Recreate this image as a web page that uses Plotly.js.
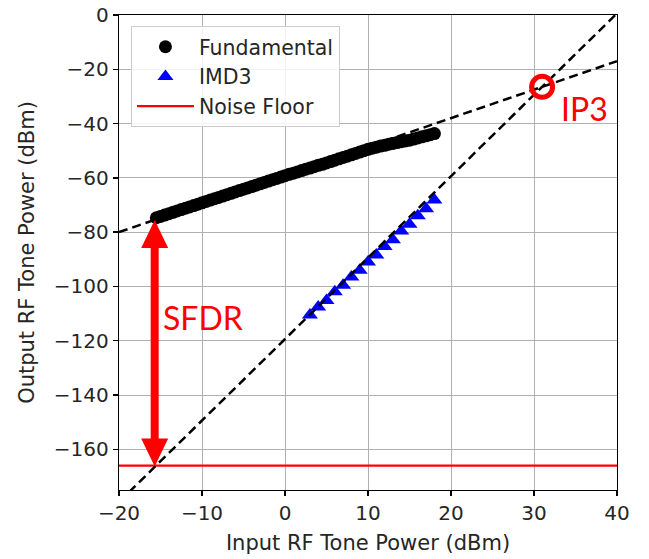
<!DOCTYPE html>
<html>
<head>
<meta charset="utf-8">
<script src="https://cdn.plot.ly/plotly-3.0.1.min.js"></script>
<style>html,body{margin:0;padding:0;background:#fff;}#chart{width:649px;height:559px;}</style>
</head>
<body>
<div id="chart"></div>
<script>
// ---- Data ----
var fundX = [-15.5,-15,-14.5,-14,-13.5,-13,-12.5,-12,-11.5,-11,-10.5,-10,
  -9.5,-9,-8.5,-8,-7.5,-7,-6.5,-6,-5.5,-5,-4.5,-4,-3.5,-3,-2.5,-2,-1.5,-1,-0.5,0,
  0.5,1,1.5,2,2.5,3,3.5,4,4.5,5,5.5,6,6.5,7,7.5,8,8.5,9,9.5,10,
  10.5,11,11.5,12,12.5,13,13.5,14,14.5,15,15.5,16,16.5,17,17.5,18];
var fundY = [-74.7,-74.2,-73.7,-73.2,-72.7,-72.2,-71.7,-71.2,-70.7,-70.2,-69.7,-69.2,
  -68.7,-68.2,-67.7,-67.2,-66.7,-66.2,-65.7,-65.2,-64.7,-64.2,-63.7,-63.2,-62.7,-62.2,-61.7,-61.2,-60.7,-60.2,-59.7,-59.2,
  -58.7,-58.3,-57.8,-57.3,-56.8,-56.4,-55.9,-55.4,-55.0,-54.5,-54.0,-53.5,-53.0,-52.5,-52.0,-51.5,-51.0,-50.5,-50.0,-49.5,
  -49.1,-48.7,-48.3,-48.0,-47.6,-47.3,-47.0,-46.7,-46.4,-46.1,-45.7,-45.3,-44.9,-44.5,-44.1,-43.7];
var imdX = [3,4,5,6,7,8,9,10,11,12,13,14,15,16,17,18];
var imdY = [-110.5,-107.6,-105.2,-102.0,-99.6,-96.5,-94.0,-91.0,-88.4,-85.3,-82.8,-79.6,-77.1,-74.0,-71.4,-68.2];
var noiseFloor = -166;
var fundFit = [1.05, -59.0];   // slope, intercept
var imdFit = [3.0, -119.4];    // slope, intercept
var xRange = [-20, 40];
var yRange = [-175, 0];
var xTicks = [-20, -10, 0, 10, 20, 30, 40];
var yTicks = [0, -20, -40, -60, -80, -100, -120, -140, -160];
var sfdrX = -15.7;
var sfdrY = [-75.5, -166.3];
var sfdrLabel = [-14.9, -111.5];
var ip3Label = [33.0, -34.4];

// ---- derived ----
function fitLine(p){ return xRange.map(function(x){ return p[0]*x + p[1]; }); }
var ip3X = (imdFit[1] - fundFit[1]) / (fundFit[0] - imdFit[0]);
var ip3Y = fundFit[0]*ip3X + fundFit[1];
var minus = function(v){ return (v < 0 ? '\u2212' : '') + Math.abs(v); };

var FONT = 'DejaVu Sans, sans-serif';
var traces = [
  {x: fundX, y: fundY, mode: 'markers', name: 'Fundamental', type: 'scatter',
   marker: {symbol: 'circle', color: '#000', size: 13}},
  {x: imdX, y: imdY, mode: 'markers', name: 'IMD3', type: 'scatter',
   marker: {symbol: 'triangle-up', color: '#0000ff', size: 14}},
  {x: xRange, y: [noiseFloor, noiseFloor], mode: 'lines', name: 'Noise Floor', type: 'scatter',
   line: {color: '#ff0000', width: 2.2}},
  {x: xRange, y: fitLine(fundFit), mode: 'lines', showlegend: false, type: 'scatter',
   line: {color: '#000', width: 2.5, dash: '9px,5px'}},
  {x: xRange, y: fitLine(imdFit), mode: 'lines', showlegend: false, type: 'scatter',
   line: {color: '#000', width: 2.5, dash: '9px,5px'}},
  {x: [ip3X], y: [ip3Y], mode: 'markers', showlegend: false, type: 'scatter',
   marker: {symbol: 'circle-open', color: '#ff0000', size: 21, line: {width: 5, color: '#ff0000'}}}
];

var axisCommon = {
  showline: true, mirror: true, linecolor: '#000', linewidth: 1.3,
  ticks: 'outside', ticklen: 5, tickwidth: 1.3, tickcolor: '#000',
  showgrid: true, gridcolor: '#b0b0b0', gridwidth: 1, zeroline: false,
  tickfont: {family: FONT, size: 20, color: '#262626'}
};

var layout = {
  width: 649, height: 559,
  margin: {l: 119, r: 32, t: 15, b: 69},
  paper_bgcolor: '#fff', plot_bgcolor: '#fff',
  showlegend: true,
  font: {family: FONT, color: '#262626'},
  xaxis: Object.assign({}, axisCommon, {
    range: xRange, tickmode: 'array', tickvals: xTicks, ticktext: xTicks.map(minus),
    title: {text: 'Input RF Tone Power (dBm)', font: {family: FONT, size: 21, color: '#262626'}, standoff: 11}
  }),
  yaxis: Object.assign({}, axisCommon, {
    range: yRange, tickmode: 'array', tickvals: yTicks, ticktext: yTicks.map(minus),
    title: {text: 'Output RF Tone Power (dBm)', font: {family: FONT, size: 21, color: '#262626'}, standoff: 13}
  }),
  legend: {
    x: 0.024, y: 0.977, xanchor: 'left', yanchor: 'top',
    bgcolor: 'rgba(255,255,255,0.85)', bordercolor: '#cccccc', borderwidth: 1,
    itemwidth: 57,
    font: {family: FONT, size: 20.5, color: '#262626'}
  },
  annotations: [
    {x: sfdrX, y: sfdrY[1], ax: sfdrX, ay: sfdrY[0], xref: 'x', yref: 'y', axref: 'x', ayref: 'y',
     text: '', showarrow: true, arrowhead: 0, arrowwidth: 8, arrowcolor: '#ff0000',
     standoff: 22, startstandoff: 22},
    {x: sfdrLabel[0], y: sfdrLabel[1], xref: 'x', yref: 'y', text: 'SFDR', showarrow: false,
     xanchor: 'left', yanchor: 'middle', font: {family: 'Lato, sans-serif', size: 32, color: '#ff0000'}},
    {x: ip3Label[0], y: ip3Label[1], xref: 'x', yref: 'y', text: 'IP3', showarrow: false,
     xanchor: 'left', yanchor: 'middle', font: {family: 'Lato, sans-serif', size: 32, color: '#ff0000'}}
  ],
  shapes: [
    {type: 'path', xref: 'x', yref: 'y', xsizemode: 'pixel', ysizemode: 'pixel',
     xanchor: sfdrX, yanchor: sfdrY[0], path: 'M0,0 L-13.5,-28 L13.5,-28 Z',
     fillcolor: '#ff0000', line: {width: 0}},
    {type: 'path', xref: 'x', yref: 'y', xsizemode: 'pixel', ysizemode: 'pixel',
     xanchor: sfdrX, yanchor: sfdrY[1], path: 'M0,0 L-13.5,28 L13.5,28 Z',
     fillcolor: '#ff0000', line: {width: 0}}
  ]
};

Plotly.newPlot('chart', traces, layout, {displayModeBar: false, staticPlot: true});
</script>
</body>
</html>
